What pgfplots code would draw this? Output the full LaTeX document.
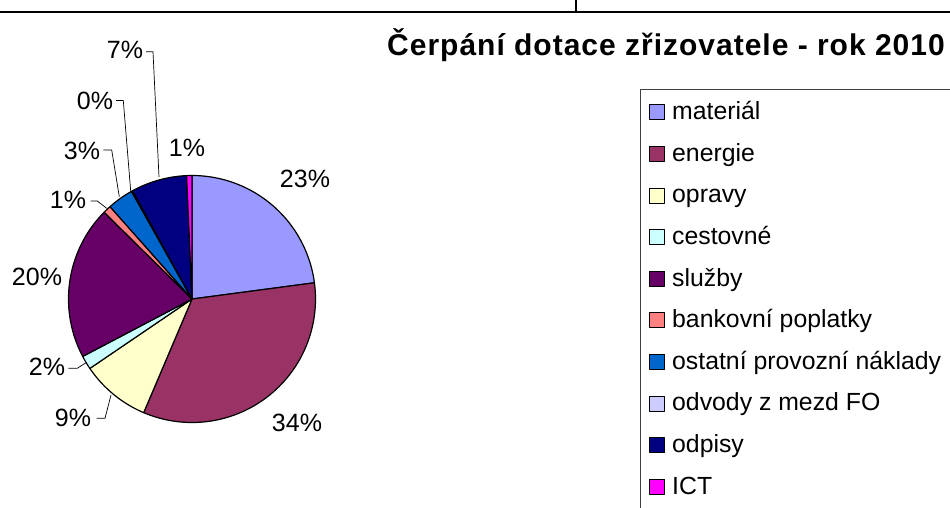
\documentclass[border=0pt]{standalone}
\usepackage{pgfplots}
\pgfplotsset{compat=1.18}
\usepackage{fontspec}
\setmainfont{Liberation Sans}
\newfontfamily\titlefont[LetterSpace=3.3]{Liberation Sans}

\definecolor{cMat}{HTML}{9999FF}
\definecolor{cEne}{HTML}{993366}
\definecolor{cOpr}{HTML}{FFFFCC}
\definecolor{cCes}{HTML}{CCFFFF}
\definecolor{cSlu}{HTML}{660066}
\definecolor{cBan}{HTML}{FF8080}
\definecolor{cOst}{HTML}{0066CC}
\definecolor{cOdv}{HTML}{CCCCFF}
\definecolor{cOdp}{HTML}{000080}
\definecolor{cICT}{HTML}{FF00FF}

% shares of the pie (percent), clockwise from 12 o'clock
\def\vA{22.9}  % material
\def\vB{33.5}  % energie
\def\vC{9.1}   % opravy
\def\vD{1.8}   % cestovne
\def\vE{20.1}  % sluzby
\def\vF{1.05}  % bankovni poplatky
\def\vG{3.4}   % ostatni provozni naklady
\def\vH{0.15}  % odvody z mezd FO
\def\vI{7.3}   % odpisy
\def\vJ{0.7}   % ICT

\pgfmathsetmacro\tA{90}
\pgfmathsetmacro\tB{\tA-3.6*\vA}
\pgfmathsetmacro\tC{\tB-3.6*\vB}
\pgfmathsetmacro\tD{\tC-3.6*\vC}
\pgfmathsetmacro\tE{\tD-3.6*\vD}
\pgfmathsetmacro\tF{\tE-3.6*\vE}
\pgfmathsetmacro\tG{\tF-3.6*\vF}
\pgfmathsetmacro\tH{\tG-3.6*\vG}
\pgfmathsetmacro\tI{\tH-3.6*\vH}
\pgfmathsetmacro\tJ{\tI-3.6*\vI}
\pgfmathsetmacro\tK{\tJ-3.6*\vJ}

\def\cx{192}
\def\cy{299}
\def\rr{123.5}

\begin{document}
\begin{tikzpicture}
\useasboundingbox (0,0) rectangle (950pt,-508pt);
\fill[white] (0,0) rectangle (950pt,-508pt);
\clip (0,0) rectangle (950pt,-508pt);
\begin{axis}[
  at={(0,0)}, anchor=north west,
  x=1pt, y=1pt, xmin=0, xmax=950, ymin=0, ymax=508,
  y dir=reverse, hide axis, clip=false,
  every axis plot/.style={draw=black, line width=1.2pt, line join=round, samples=90},
  legend image code/.code={\draw[#1, line width=0.8pt] (0pt,-6.5pt) rectangle (15pt,8.5pt);},
  legend cell align=left,
  legend style={at={(axis cs:640,89)}, anchor=north west, draw=black!75, line width=0.8pt,
    fill=white, inner xsep=9pt, inner ysep=12.3pt, row sep=18.6pt, column sep=7pt,
    font=\fontsize{24.8}{29}\selectfont,
    nodes={inner sep=0pt, text height=18pt, text depth=5pt}},
]
\addplot[fill=cMat, domain=\tB:\tA] ({\cx+\rr*cos(x)},{\cy-\rr*sin(x)}) -- (axis cs:\cx,\cy) -- cycle;
\addlegendentry{materiál}
\addplot[fill=cEne, domain=\tC:\tB] ({\cx+\rr*cos(x)},{\cy-\rr*sin(x)}) -- (axis cs:\cx,\cy) -- cycle;
\addlegendentry{energie}
\addplot[fill=cOpr, domain=\tD:\tC] ({\cx+\rr*cos(x)},{\cy-\rr*sin(x)}) -- (axis cs:\cx,\cy) -- cycle;
\addlegendentry{opravy}
\addplot[fill=cCes, domain=\tE:\tD] ({\cx+\rr*cos(x)},{\cy-\rr*sin(x)}) -- (axis cs:\cx,\cy) -- cycle;
\addlegendentry{cestovné}
\addplot[fill=cSlu, domain=\tF:\tE] ({\cx+\rr*cos(x)},{\cy-\rr*sin(x)}) -- (axis cs:\cx,\cy) -- cycle;
\addlegendentry{služby}
\addplot[fill=cBan, domain=\tG:\tF] ({\cx+\rr*cos(x)},{\cy-\rr*sin(x)}) -- (axis cs:\cx,\cy) -- cycle;
\addlegendentry{bankovní poplatky}
\addplot[fill=cOst, domain=\tH:\tG] ({\cx+\rr*cos(x)},{\cy-\rr*sin(x)}) -- (axis cs:\cx,\cy) -- cycle;
\addlegendentry{ostatní provozní náklady}
\addplot[fill=cOdv, domain=\tI:\tH] ({\cx+\rr*cos(x)},{\cy-\rr*sin(x)}) -- (axis cs:\cx,\cy) -- cycle;
\addlegendentry{odvody z mezd FO}
\addplot[fill=cOdp, domain=\tJ:\tI] ({\cx+\rr*cos(x)},{\cy-\rr*sin(x)}) -- (axis cs:\cx,\cy) -- cycle;
\addlegendentry{odpisy}
\addplot[fill=cICT, domain=\tK:\tJ] ({\cx+\rr*cos(x)},{\cy-\rr*sin(x)}) -- (axis cs:\cx,\cy) -- cycle;
\addlegendentry{ICT}

% data labels
\begin{scope}[every node/.style={inner sep=0pt, font=\fontsize{25}{30}\selectfont}]
\node at (axis cs:305,179) {23\%};
\node at (axis cs:297,423) {34\%};
\node at (axis cs:73,418) {9\%};
\node at (axis cs:47,367) {2\%};
\node at (axis cs:37,277) {20\%};
\node at (axis cs:68,200) {1\%};
\node at (axis cs:82,151) {3\%};
\node at (axis cs:95,101) {0\%};
\node at (axis cs:125,50) {7\%};
\node at (axis cs:187,148) {1\%};
\end{scope}
% leader lines
\begin{scope}[line width=0.7pt]
\draw (axis cs:146,51.7) -- (axis cs:153,51.7) -- (axis cs:159,177);
\draw (axis cs:116,100.5) -- (axis cs:123.3,100.5) -- (axis cs:130.7,191);
\draw (axis cs:103.3,150) -- (axis cs:111.7,150) -- (axis cs:119.3,196.7);
\draw (axis cs:90.7,201) -- (axis cs:97.3,201) -- (axis cs:106.7,208.3);
\draw (axis cs:68.3,368.3) -- (axis cs:77.3,368.3) -- (axis cs:86,362.7);
\draw (axis cs:96.7,418.3) -- (axis cs:105,418.3) -- (axis cs:111,395);
\end{scope}
% title
\node[anchor=base east, inner sep=0pt, font=\titlefont\bfseries\fontsize{30}{36}\selectfont]
  at (axis cs:945,55) {Čerpání dotace zřizovatele - rok 2010};
% frame lines at the top
\draw[line width=2.5pt] (axis cs:0,12) -- (axis cs:950,12);
\draw[line width=1.5pt] (axis cs:576,0) -- (axis cs:576,12);
\end{axis}
\end{tikzpicture}
\end{document}
